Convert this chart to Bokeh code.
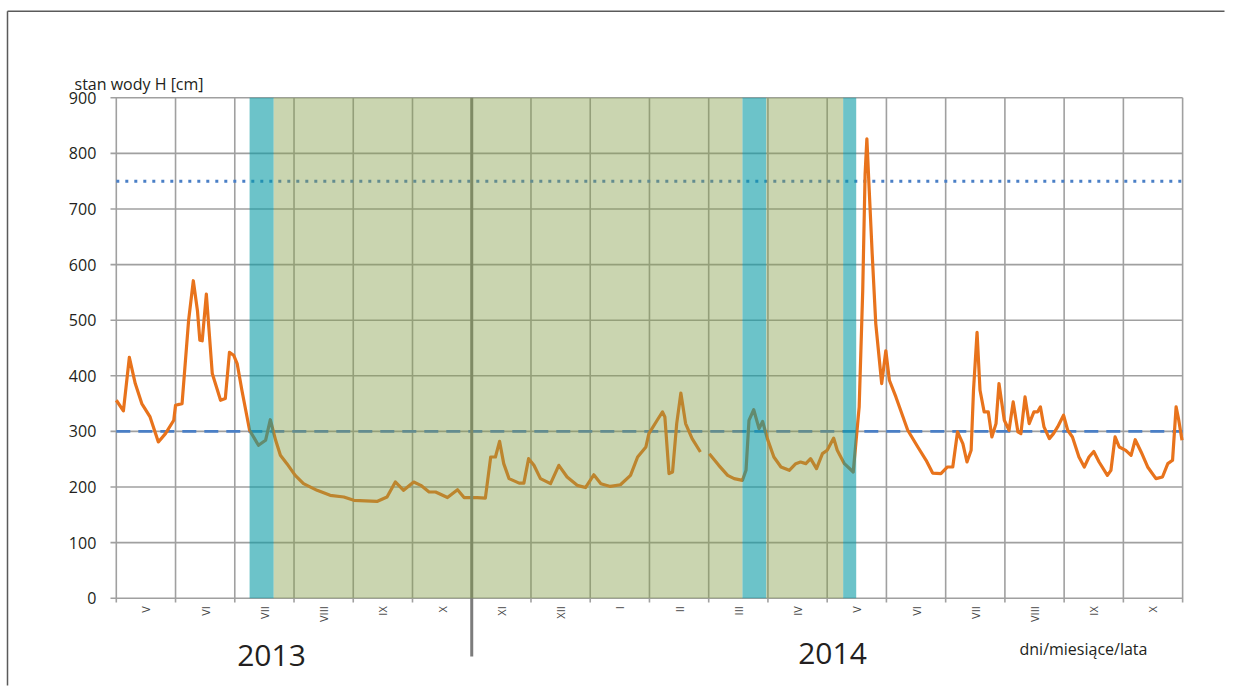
import math
from bokeh.plotting import figure
from bokeh.models import Range1d, LinearAxis, FixedTicker, Label
from bokeh.embed import file_html
from bokeh.resources import INLINE

# ---------------- data ----------------
months = ["V", "VI", "VII", "VIII", "IX", "X", "XI", "XII", "I", "II",
          "III", "IV", "V", "VI", "VII", "VIII", "IX", "X"]
years = ["2013", "2014"]
y_ticks = [0, 100, 200, 300, 400, 500, 600, 700, 800, 900]

# time in months since 1 May 2013, water level H [cm]
t = [0.00, 0.12, 0.22, 0.32, 0.43, 0.57, 0.71, 0.83, 0.97, 1.00,
     1.11, 1.22, 1.30, 1.37, 1.41, 1.45, 1.52, 1.62, 1.76, 1.84,
     1.91, 1.98, 2.04, 2.12, 2.25, 2.40, 2.52, 2.60, 2.69, 2.77,
     2.88, 3.02, 3.16, 3.39, 3.61, 3.84, 4.01, 4.40, 4.57, 4.71,
     4.85, 5.02, 5.14, 5.28, 5.39, 5.59, 5.76, 5.87, 6.09, 6.23,
     6.32, 6.40, 6.47, 6.54, 6.63, 6.80, 6.88, 6.96, 7.05, 7.16,
     7.33, 7.47, 7.61, 7.78, 7.92, 8.06, 8.18, 8.34, 8.51, 8.68,
     8.80, 8.94, 8.99, 9.13, 9.22, 9.26, 9.33, 9.39, 9.46, 9.53,
     9.61, 9.72, 9.86, 9.93, 10.01, 10.17, 10.32, 10.43, 10.57, 10.63,
     10.68, 10.76, 10.85, 10.91, 10.99, 11.10, 11.22, 11.36, 11.47, 11.55,
     11.64, 11.72, 11.82, 11.92, 12.00, 12.11, 12.17, 12.29, 12.44, 12.54,
     12.60, 12.64, 12.67, 12.71, 12.76, 12.82, 12.92, 12.99, 13.05, 13.16,
     13.36, 13.53, 13.67, 13.78, 13.92, 14.03, 14.12, 14.20, 14.29, 14.36,
     14.43, 14.47, 14.53, 14.58, 14.65, 14.72, 14.78, 14.85, 14.90, 14.99,
     15.07, 15.14, 15.22, 15.27, 15.34, 15.41, 15.49, 15.55, 15.60, 15.66,
     15.75, 15.82, 15.89, 15.99, 16.06, 16.14, 16.25, 16.34, 16.42, 16.50,
     16.59, 16.73, 16.79, 16.86, 16.93, 17.04, 17.13, 17.20, 17.30, 17.41,
     17.55, 17.66, 17.75, 17.83, 17.89, 17.93, 17.99]
nan = float("nan")
h = [356, 337, 433, 386, 350, 326, 281, 296, 320, 347,
     350, 499, 571, 517, 464, 463, 547, 404, 356, 359,
     442, 437, 422, 374, 302, 275, 284, 321, 284, 257,
     242, 221, 206, 194, 185, 182, 176, 174, 182, 209,
     194, 209, 203, 191, 191, 181, 195, 181, 181, 180,
     254, 254, 282, 242, 215, 207, 207, 251, 239, 215,
     206, 239, 218, 203, 199, 222, 206, 201, 204, 221,
     254, 272, 296, 320, 335, 326, 224, 227, 314, 369,
     314, 287, 263, nan, 260, 239, 221, 215, 212, 230,
     320, 339, 305, 318, 287, 254, 236, 230, 242, 245,
     242, 251, 233, 260, 266, 288, 266, 242, 227, 344,
     553, 763, 826, 733, 619, 494, 386, 445, 392, 362,
     302, 272, 248, 225, 224, 236, 236, 299, 278, 245,
     266, 374, 478, 374, 335, 335, 290, 314, 386, 320,
     302, 353, 299, 296, 362, 314, 335, 335, 344, 308,
     287, 296, 308, 329, 302, 290, 254, 236, 254, 264,
     245, 221, 230, 290, 272, 266, 257, 285, 263, 236,
     215, 218, 242, 248, 344, 323, 284]

warning_level = 300   # dashed
alarm_level = 750     # dotted
year_break = 6        # boundary X / XI

cyan_start = [2.25, 10.57, 12.27]
cyan_end = [2.655, 10.97, 12.49]
green_start = [2.655, 10.97]
green_end = [10.57, 12.27]

# ---------------- layout (pixel geometry) ----------------
W, H = 1232, 686
X0_PX, MONTH_PX = 115.8, 59.24
Y0_PX, CM_PX = 597.7, 0.556


def px2x(px):
    return (px - X0_PX) / MONTH_PX


def py2y(py):
    return (Y0_PX - py) / CM_PX


n_months = len(months)
top = y_ticks[-1]

p = figure(width=W, height=H, output_backend="svg", toolbar_location=None,
           x_range=Range1d(px2x(0), px2x(W)), y_range=Range1d(py2y(H), py2y(0)),
           x_axis_type=None, y_axis_type=None, title=None,
           min_border=0, outline_line_color=None,
           background_fill_color="white", border_fill_color="white")

FONT = "Open Sans"
TXT = "#231f20"
GRID = "#a0a0a0"

# outer frame: left and top edges
p.line(x=[px2x(7), px2x(7)], y=[py2y(H - 1), py2y(10.7)],
       line_color="#5a5a5a", line_width=1.5)
p.line(x=[px2x(7), px2x(W - 8)], y=[py2y(10.7), py2y(10.7)],
       line_color="#5a5a5a", line_width=1.5)

# grid lines
vx = list(range(n_months + 1))
p.segment(x0=vx, x1=vx, y0=[py2y(602)] * len(vx), y1=[top] * len(vx),
          line_color=GRID, line_width=1.6)
p.segment(x0=[px2x(110)] * len(y_ticks), x1=[n_months] * len(y_ticks),
          y0=y_ticks, y1=y_ticks, line_color=GRID, line_width=1.6)

# reference levels
p.line([0, n_months], [alarm_level, alarm_level], line_color="#4a7fc6",
       line_width=3, line_dash="3 6")
p.line([0, n_months], [warning_level, warning_level], line_color="#4a7fc6",
       line_width=2.6, line_dash="14 8")

# water level
p.line(t, h, line_color="#e8731c", line_width=3.2, line_join="round")

# year divider
p.segment(x0=[year_break], x1=[year_break], y0=[py2y(656)], y1=[top],
          line_color="#7c7c7c", line_width=3)

# shaded periods (translucent overlays)
p.quad(left=green_start, right=green_end, bottom=0, top=top,
       fill_color="#849d47", fill_alpha=0.43, line_color=None)
p.quad(left=cyan_start, right=cyan_end, bottom=0, top=top,
       fill_color="#0a9ba5", fill_alpha=0.6, line_color=None)

# axes
xaxis = LinearAxis(fixed_location=0,
                   ticker=FixedTicker(ticks=[i + 0.5 for i in range(n_months)]),
                   major_label_overrides={i + 0.5: m for i, m in enumerate(months)},
                   major_label_orientation=math.pi / 2,
                   major_label_text_font=FONT, major_label_text_font_size="11px",
                   major_label_text_color="#444444", major_label_standoff=8,
                   axis_line_color=None, major_tick_line_color=None,
                   minor_tick_line_color=None, major_tick_out=0, major_tick_in=0,
                   minor_tick_out=0, minor_tick_in=0)
yaxis = LinearAxis(fixed_location=0, ticker=FixedTicker(ticks=y_ticks),
                   major_label_text_font=FONT, major_label_text_font_size="16px",
                   major_label_text_color=TXT, major_label_standoff=20,
                   axis_line_color=None, major_tick_line_color=None,
                   minor_tick_line_color=None, major_tick_out=0, major_tick_in=0,
                   minor_tick_out=0, minor_tick_in=0)
p.add_layout(xaxis, "below")
p.add_layout(yaxis, "left")

# texts
p.add_layout(Label(x=px2x(74), y=py2y(83), text="stan wody H [cm]",
                   text_font=FONT, text_font_size="16px", text_color=TXT,
                   text_baseline="alphabetic"))
p.add_layout(Label(x=px2x(1019), y=py2y(648), text="dni/miesiące/lata",
                   text_font=FONT, text_font_size="16px", text_color=TXT,
                   text_baseline="alphabetic"))
p.add_layout(Label(x=px2x(271), y=py2y(655), text=years[0],
                   text_font=FONT, text_font_size="30px", text_color=TXT,
                   text_baseline="alphabetic", text_align="center"))
p.add_layout(Label(x=px2x(832), y=py2y(653), text=years[1],
                   text_font=FONT, text_font_size="30px", text_color=TXT,
                   text_baseline="alphabetic", text_align="center"))

open("out.html", "w").write(file_html(p, INLINE))
